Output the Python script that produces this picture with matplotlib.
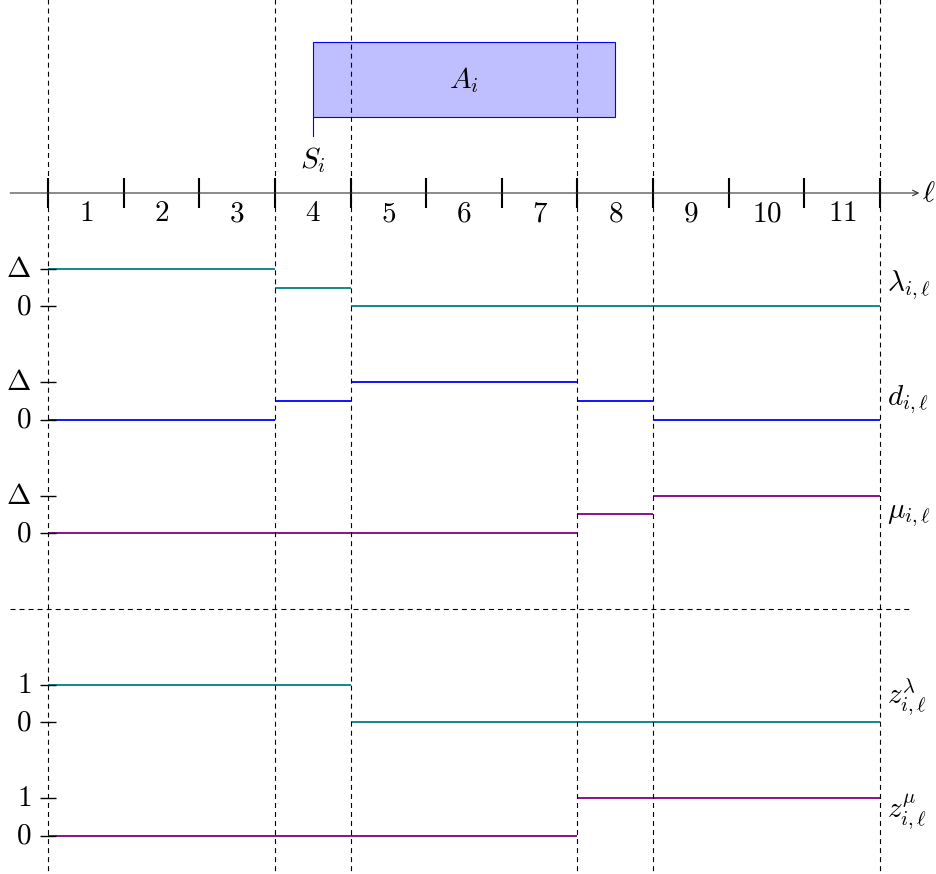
import numpy as np
import matplotlib
matplotlib.use("Agg")
import matplotlib.pyplot as plt
from matplotlib.patches import Rectangle

plt.rcParams["mathtext.fontset"] = "cm"
plt.rcParams["lines.scale_dashes"] = False

# slot data (one value per slot 1..11), Delta = 1
slot_labels = [str(k) for k in range(1, 12)]
lam = [1, 1, 1, 0.5, 0, 0, 0, 0, 0, 0, 0]
dem = [0, 0, 0, 0.5, 1, 1, 1, 0.5, 0, 0, 0]
mu = [0, 0, 0, 0, 0, 0, 0, 0.5, 1, 1, 1]
z_lam = [1, 1, 1, 1, 0, 0, 0, 0, 0, 0, 0]
z_mu = [0, 0, 0, 0, 0, 0, 0, 1, 1, 1, 1]
guides = [0, 3, 4, 7, 8, 11]
act_start, act_end = 3.5, 7.5

rows = [
    (lam, -3, "#008080", r"$\lambda_{i,\ell}$", r"$\Delta$"),
    (dem, -6, "#0000ff", r"$d_{i,\ell}$", r"$\Delta$"),
    (mu, -9, "#800080", r"$\mu_{i,\ell}$", r"$\Delta$"),
    (z_lam, -14, "#008080", r"$z^{\lambda}_{i,\ell}$", r"$1$"),
    (z_mu, -17, "#800080", r"$z^{\mu}_{i,\ell}$", r"$1$"),
]

FS = 21
DASH = (0, (3.6, 2.9))
W, H = 937, 874
fig = plt.figure(figsize=(W / 100, H / 100), dpi=100)
ax = fig.add_axes([0, 0, 1, 1])
ax.set_xlim(-48 / 75.64, (W - 48) / 75.64)
ax.set_ylim((193 - H) / 37.82, 193 / 37.82)
ax.axis("off")

edges = np.arange(len(lam) + 1)

# vertical guides
for g in guides:
    ax.plot([g, g], [5.2, -18.2], color="black", lw=0.8, ls=DASH, zorder=3)
ax.plot([-0.5, 11.42], [-11, -11], color="black", lw=0.8, ls=DASH)

# activity box
ax.add_patch(Rectangle((act_start, 2), act_end - act_start, 2, facecolor="#bfbfff",
                       edgecolor="#0000ff", lw=0.8, zorder=2))
ax.plot([act_start, act_start], [2, 1.5], color="#0000ff", lw=0.8)
ax.text((act_start + act_end) / 2, 3, r"$A_i$", fontsize=FS, ha="center", va="center", zorder=4)
ax.text(act_start, 1.27, r"$S_i$", fontsize=FS, ha="center", va="top")

# time axis
ax.annotate("", xy=(11.52, 0), xytext=(-0.5, 0),
            arrowprops=dict(arrowstyle="->", color="#333333", lw=0.8, shrinkA=0, shrinkB=0))
ax.vlines(edges, -0.4, 0.4, color="black", lw=1.5)
for k, lab in enumerate(slot_labels):
    ax.text(k + 0.5, -0.53, "$%s$" % lab, fontsize=FS, ha="center", va="center")
ax.text(11.55, 0, r"$\ell$", fontsize=FS, ha="left", va="center")

# step rows
for vals, base, col, name, top in rows:
    ax.hlines(base + np.array(vals), edges[:-1], edges[1:], color=col, lw=1.3)
    ax.hlines([base, base + 1], -0.1, 0.1, color="black", lw=1.0, zorder=3)
    ax.text(-0.22, base + 1, top, fontsize=FS, ha="right", va="center")
    ax.text(-0.22, base, r"$0$", fontsize=FS, ha="right", va="center")
    ax.annotate(name, xy=(11, base), xytext=(5, 3), textcoords="offset points",
                fontsize=FS, ha="left", va="bottom")

fig.savefig("out.png", dpi=100)
